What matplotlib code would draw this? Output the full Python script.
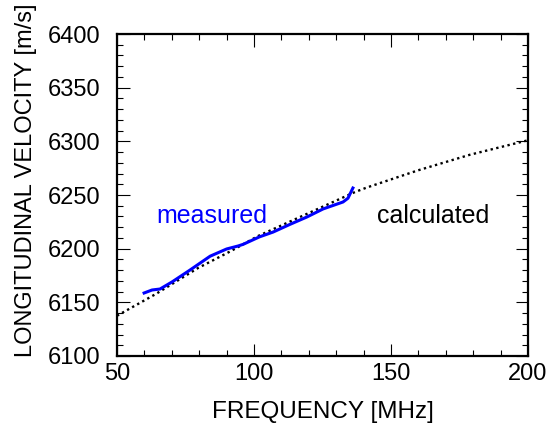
import numpy as np
import matplotlib
matplotlib.use('Agg')
import matplotlib.pyplot as plt
from matplotlib.ticker import MultipleLocator

# ── Data ──
meas_freq = [59.9, 62.8, 65.7, 70.1, 76.6, 84.0, 90.0, 94.2, 96.0, 102.0,
             107.0, 113.0, 119.3, 125.2, 132.5, 134.3, 136.1]
meas_vel = [6158.7, 6161.5, 6162.4, 6169.0, 6180.0, 6193.0, 6199.7, 6202.5,
            6204.0, 6211.0, 6215.5, 6222.5, 6229.5, 6237.0, 6243.5, 6247.0,
            6256.5]

calc_freq = [50.0, 64.2, 79.6, 91.6, 101.5, 116.8, 136.9, 141.2, 159.9,
             178.8, 200.0]
calc_vel = [6137.5, 6157.8, 6182.0, 6197.8, 6211.8, 6229.5, 6252.8, 6257.0,
            6273.0, 6287.5, 6301.0]

plt.rcParams['font.family'] = ['Liberation Sans', 'DejaVu Sans']

fig = plt.figure(figsize=(5.5, 4.23), dpi=100)
ax = fig.add_axes([0.2127, 0.1584, 0.7473, 0.7612])

ax.plot(calc_freq, calc_vel, color='black', lw=1.7,
        linestyle=(0, (1, 1.45)))
ax.plot(meas_freq, meas_vel, color='#0000ff', lw=2.2)

ax.text(84.5, 6224, 'measured', color='#0000ff', fontsize=18,
        ha='center', va='baseline')
ax.text(165.5, 6224, 'calculated', color='black', fontsize=18,
        ha='center', va='baseline')

ax.set_xlim(50, 200)
ax.set_ylim(6100, 6400)
ax.xaxis.set_major_locator(MultipleLocator(50))
ax.xaxis.set_minor_locator(MultipleLocator(10))
ax.yaxis.set_major_locator(MultipleLocator(50))
ax.yaxis.set_minor_locator(MultipleLocator(10))

ax.tick_params(which='both', direction='in', top=True, right=True,
               labelsize=17, width=0.8)
ax.tick_params(which='major', length=9)
ax.tick_params(which='minor', length=4)
ax.tick_params(axis='x', pad=5)
ax.tick_params(axis='y', pad=12)
for s in ax.spines.values():
    s.set_linewidth(1.6)

ax.set_xlabel('FREQUENCY [MHz]', fontsize=17.5)
ax.set_ylabel('LONGITUDINAL VELOCITY [m/s]', fontsize=17)
ax.xaxis.set_label_coords(0.5, -0.174)
ax.yaxis.set_label_coords(-0.221, 0.547)
ax.xaxis.label.set_va('center')
ax.yaxis.label.set_va('center')

plt.savefig('out.png', dpi=100)
